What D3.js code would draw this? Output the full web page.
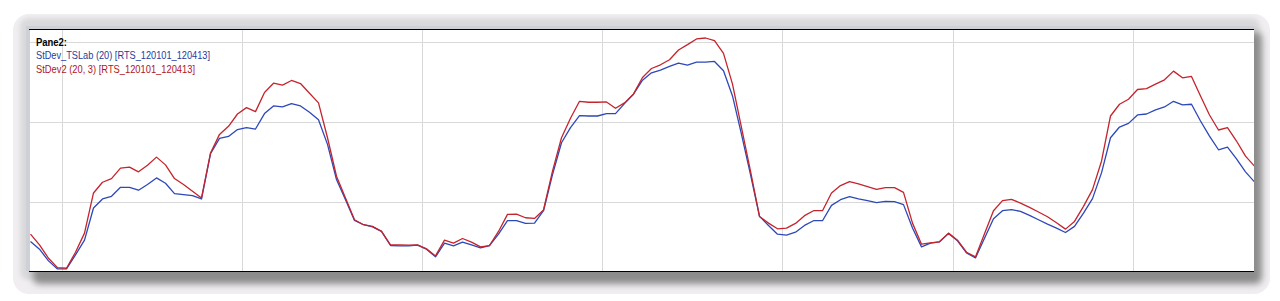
<!DOCTYPE html>
<html><head><meta charset="utf-8">
<script src="https://cdn.jsdelivr.net/npm/d3@7"></script>
<style>html,body{margin:0;padding:0;background:#fff;}svg{display:block;}</style>
</head><body>
<svg id="c" width="1280" height="301"></svg>
<script>
// Series values (index-based bars)
const stdevTSLab = [50.6,41.0,26.4,16.3,16.3,33.9,52.3,92.5,103.8,107.1,118.4,118.4,114.7,121.8,130.1,123.4,110.5,109.2,108.0,103.8,
160.3,179.5,182.0,190.5,192.9,191.2,210.5,220.1,218.8,223.0,220.1,212.1,202.9,172.0,128.0,102.9,77.0,71.6,69.0,63.2,
45.6,45.2,45.2,46.0,41.0,31.4,48.5,45.2,49.8,46.4,42.7,45.6,59.8,76.6,76.6,73.2,73.6,89.1,134.3,174.1,
192.9,208.0,207.5,207.5,210.5,210.5,223.0,234.7,252.3,261.5,264.9,269.5,273.6,271.1,274.9,274.9,275.7,264.0,232.6,184.5,
134.3,82.0,70.7,59.8,58.6,62.3,70.7,76.6,76.6,95.8,102.9,106.7,103.8,101.7,99.2,100.8,100.4,96.7,67.4,43.9,
48.5,50.2,60.7,51.5,36.4,30.1,54.8,79.1,89.1,90.4,88.3,83.3,77.8,72.4,67.4,61.9,69.5,86.2,104.2,136.4,
180.3,193.7,198.3,208.8,210.0,215.1,218.8,225.9,221.3,222.2,201.3,182.4,165.3,168.6,154.0,137.7,125.1];
const stdev2 = [59.8,46.4,29.7,18.0,17.2,37.2,61.1,111.3,124.7,129.3,142.3,143.5,137.7,146.0,156.1,146.4,129.3,121.8,113.4,105.0,
161.1,184.5,194.6,210.0,218.0,213.0,236.8,248.5,246.0,251.9,248.1,236.0,223.9,180.3,132.2,105.0,77.8,71.6,69.5,63.2,
46.4,46.4,46.0,46.4,41.4,32.6,52.3,48.5,54.4,49.8,43.9,45.6,63.2,84.5,84.9,80.3,79.5,90.0,138.5,180.3,
204.6,225.9,224.7,224.7,225.1,217.2,223.9,235.1,255.6,266.9,271.5,277.8,290.0,296.7,303.8,305.0,301.7,285.8,247.3,192.9,
138.5,82.0,73.6,66.5,67.4,73.2,82.9,89.1,89.1,111.3,120.5,125.5,122.6,119.3,115.9,118.0,118.0,112.1,73.6,47.3,
49.0,50.2,61.1,52.3,37.2,31.4,60.3,89.1,101.7,103.4,98.7,93.3,87.5,81.6,74.1,66.1,75.7,94.6,115.5,151.0,
207.5,222.2,228.5,240.6,241.8,247.3,252.7,263.6,255.2,256.9,232.6,208.8,190.0,192.9,176.2,157.3,144.8];
const yGridValues = [100, 200, 300];
const xGridIndex = [3.5, 23.5, 43.5, 63.5, 83.5, 102.5, 122.5];
const legendTitle = "Pane2:";
const seriesNames = ["StDev_TSLab (20) [RTS_120101_120413]", "StDev2 (20, 3) [RTS_120101_120413]"];

const svg = d3.select("#c");
const L = 30, R = 1254, T = 29, B = 271;

// frame + shadow
const defs = svg.append("defs");
defs.append("filter").attr("id","blur").attr("x","-10%").attr("y","-20%").attr("width","120%").attr("height","140%")
  .append("feGaussianBlur").attr("stdDeviation", 3.5);
defs.append("filter").attr("id","blur2").attr("x","-10%").attr("y","-20%").attr("width","120%").attr("height","140%")
  .append("feGaussianBlur").attr("stdDeviation", 2);
defs.append("clipPath").attr("id","outer").append("rect")
  .attr("x",13).attr("y",14).attr("width",1257).attr("height",280).attr("rx",16);
defs.append("clipPath").attr("id","plot").append("rect")
  .attr("x",L).attr("y",T).attr("width",R-L).attr("height",B-T);

svg.append("rect").attr("x",13).attr("y",14).attr("width",1257).attr("height",280).attr("rx",16)
  .attr("fill","#f1eef1");
const fr = svg.append("g").attr("clip-path","url(#outer)");
fr.append("rect").attr("x",20).attr("y",18).attr("width",1240).attr("height",262).attr("rx",8)
  .attr("fill","#dadadc").attr("filter","url(#blur2)");
fr.append("rect").attr("x",33).attr("y",32).attr("width",1229).attr("height",252).attr("rx",6)
  .attr("fill","#8c8c8c").attr("filter","url(#blur)");
svg.append("rect").attr("x",26).attr("y",26).attr("width",R-26).attr("height",B-26).attr("fill","#cdd0d6");
svg.append("rect").attr("x",L).attr("y",T).attr("width",R-L).attr("height",B-T).attr("fill","#ffffff");

const x = d3.scaleLinear().domain([0, 136]).range([30.5, 1254.5]);
const y = d3.scaleLinear().domain([13.75, 316.25]).range([B, T]);

const g = svg.append("g").attr("clip-path","url(#plot)");
g.selectAll("line.hg").data(yGridValues).join("line").attr("class","hg")
  .attr("x1",L).attr("x2",R).attr("y1",d=>Math.round(y(d))+0.5).attr("y2",d=>Math.round(y(d))+0.5)
  .attr("stroke","#d9d9d9").attr("stroke-width",1);
g.selectAll("line.vg").data(xGridIndex).join("line").attr("class","vg")
  .attr("y1",T).attr("y2",B).attr("x1",d=>Math.round(x(d))+0.5).attr("x2",d=>Math.round(x(d))+0.5)
  .attr("stroke","#d9d9d9").attr("stroke-width",1);

const line = d3.line().x((d,i)=>x(i)).y(d=>y(d));
g.append("path").datum(stdevTSLab).attr("d",line).attr("fill","none")
  .attr("stroke","#2d48b8").attr("stroke-width",1.3).attr("stroke-linejoin","round");
g.append("path").datum(stdev2).attr("d",line).attr("fill","none")
  .attr("stroke","#c4242c").attr("stroke-width",1.3).attr("stroke-linejoin","round");

// top/bottom borders
svg.append("line").attr("x1",29).attr("x2",R).attr("y1",29.5).attr("y2",29.5).attr("stroke","#000").attr("stroke-width",1.2);
svg.append("line").attr("x1",29).attr("x2",R).attr("y1",271.5).attr("y2",271.5).attr("stroke","#000").attr("stroke-width",1.2);

// legend
const fam = "'Liberation Sans', Arial, sans-serif";
svg.append("text").attr("x",36).attr("y",46).text(legendTitle)
  .attr("font-family",fam).attr("font-size",10.5).attr("font-weight","bold").attr("fill","#000")
  .attr("textLength",31).attr("lengthAdjust","spacingAndGlyphs");
svg.append("text").attr("x",36).attr("y",59).text(seriesNames[0])
  .attr("font-family",fam).attr("font-size",10.5).attr("fill","#1f3a9e")
  .attr("textLength",174).attr("lengthAdjust","spacingAndGlyphs");
svg.append("text").attr("x",36).attr("y",72.5).text(seriesNames[1])
  .attr("font-family",fam).attr("font-size",10.5).attr("fill","#b0141c")
  .attr("textLength",159).attr("lengthAdjust","spacingAndGlyphs");
</script>
</body></html>
